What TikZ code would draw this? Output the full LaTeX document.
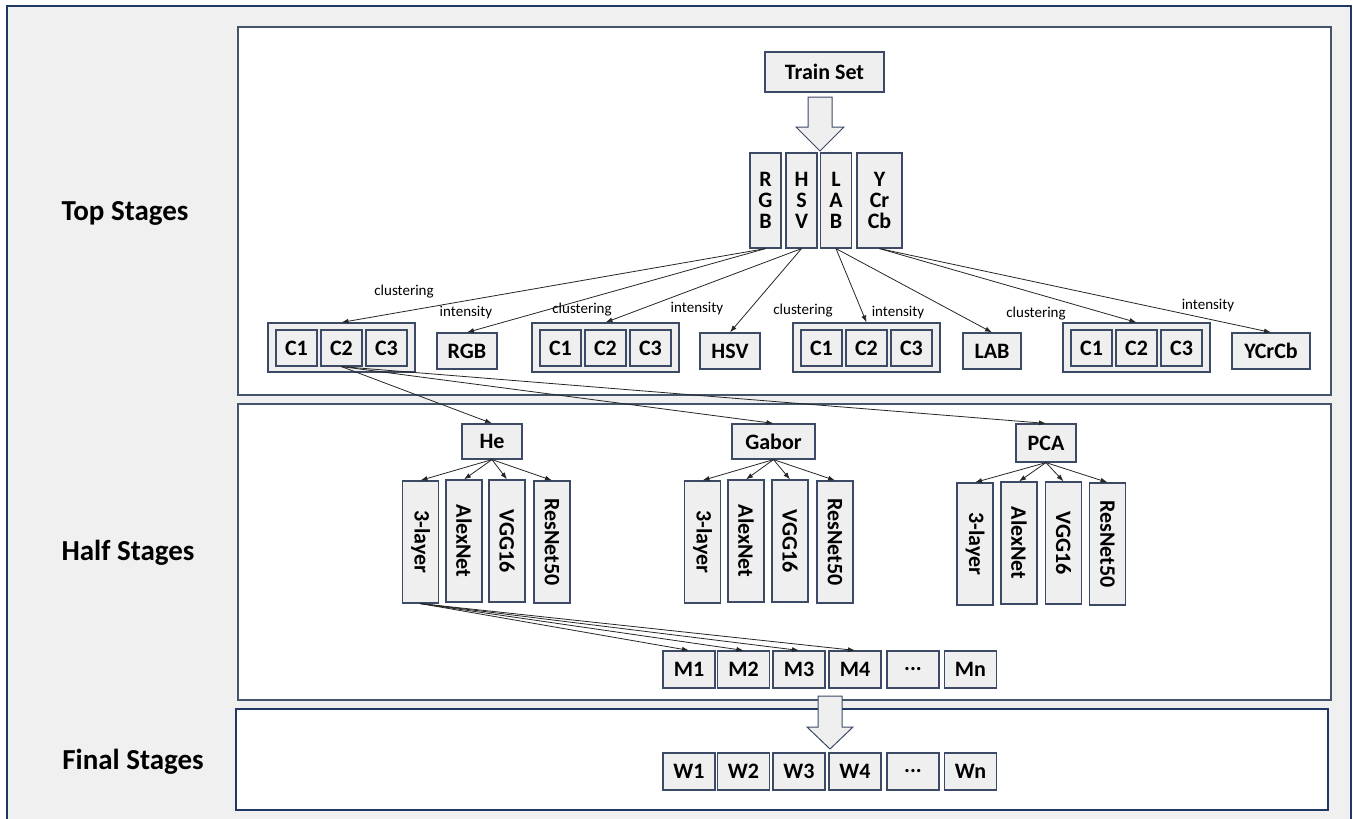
\documentclass[tikz,border=0pt]{standalone}
\usepackage{fontspec}
\setmainfont{Carlito}
\usetikzlibrary{arrows.meta}
\definecolor{panelfill}{HTML}{F0F0F0}
\definecolor{boxfill}{HTML}{EFEFEF}
\definecolor{boxline}{HTML}{3C4A66}
\definecolor{frameline}{HTML}{1F3864}
\definecolor{panelline}{HTML}{44546A}

\begin{document}
\begin{tikzpicture}[x=1pt,y=-1pt,
	box/.style={draw=boxline,fill=boxfill,line width=1.2pt,inner sep=0pt,align=center,
		font=\bfseries\fontsize{22}{21}\selectfont},
	cbox/.style={box,minimum width=41pt,minimum height=36pt},
	grp/.style={box,minimum width=147pt,minimum height=49pt},
	colbox/.style={box,minimum width=31pt,minimum height=95pt},
	ibox/.style={box,minimum height=36pt},
	mbox/.style={box,rotate=-90,minimum width=122pt,minimum height=36pt},
	rbox/.style={box,minimum width=52pt,minimum height=37pt},
	stage/.style={font=\bfseries\fontsize{29}{32}\selectfont},
	lbl/.style={font=\fontsize{15}{17}\selectfont,inner sep=0pt},
	edge/.style={draw=black!85,line width=0.8pt,-{Latex[length=7pt,width=5pt]}},
	blockarrow/.style={draw=boxline,fill=boxfill,line width=1pt}]
	
	\useasboundingbox (0,0) rectangle (1353,819);
	
	% frame and panels
	\draw[frameline,fill=panelfill,line width=1.5pt] (7,840) -- (7,6) -- (1351,6) -- (1351,840);
	\draw[panelline,fill=white,line width=1.5pt] (238,27) rectangle (1331,395);
	\draw[panelline,fill=white,line width=1.5pt] (238,404) rectangle (1331,700);
	\draw[frameline,fill=white,line width=1.5pt] (236,709) rectangle (1328,810);
	
	\node[stage] (top) at (125,213) {Top Stages};
	\node[stage] (half) at (128,553) {Half Stages};
	\node[stage] (final) at (133,762) {Final Stages};
	
	% top stages
	\node[box,minimum width=119pt,minimum height=40pt] (train) at (824.5,72) {Train Set};
	\draw[blockarrow] (808,97) -- (832,97) -- (832,127) -- (844,127) -- (820,151) -- (796,127) -- (808,127) -- cycle;
	
	\node[colbox] (rgb) at (765.5,200.5) {R\\G\\B};
	\node[colbox] (hsv) at (801.5,200.5) {H\\S\\V};
	\node[colbox] (lab) at (836,200.5) {L\\A\\B};
	\node[colbox,minimum width=45pt] (ycc) at (879.5,200.5) {Y\\Cr\\Cb};
	
	\node[grp] (g1) at (341.5,347.5) {};
	\node[cbox] (c11) at (296.5,348) {C1};
	\node[cbox] (c12) at (341.5,348) {C2};
	\node[cbox] (c13) at (386.5,348) {C3};
	\node[ibox,minimum width=60pt] (irgb) at (467,351) {RGB};
	
	\node[grp] (g2) at (605.5,347.5) {};
	\node[cbox] (c21) at (560.5,348) {C1};
	\node[cbox] (c22) at (605.5,348) {C2};
	\node[cbox] (c23) at (650.5,348) {C3};
	\node[ibox,minimum width=60pt] (ihsv) at (730,351) {HSV};
	
	\node[grp] (g3) at (866.5,347.5) {};
	\node[cbox] (c31) at (821.5,348) {C1};
	\node[cbox] (c32) at (866.5,348) {C2};
	\node[cbox] (c33) at (911.5,348) {C3};
	\node[ibox,minimum width=58pt] (ilab) at (992,351) {LAB};
	
	\node[grp] (g4) at (1136.5,347.5) {};
	\node[cbox] (c41) at (1091.5,348) {C1};
	\node[cbox] (c42) at (1136.5,348) {C2};
	\node[cbox] (c43) at (1181.5,348) {C3};
	\node[ibox,minimum width=78pt] (iycc) at (1271,351) {YCrCb};
	
	\draw[edge] (rgb.south) -- (g1.north);
	\draw[edge] (rgb.south) -- (irgb.north);
	\draw[edge] (hsv.south) -- (g2.north);
	\draw[edge] (hsv.south) -- (ihsv.north);
	\draw[edge] (lab.south) -- (g3.north);
	\draw[edge] (lab.south) -- (ilab.north);
	\draw[edge] (ycc.south) -- (g4.north);
	\draw[edge] (ycc.south) -- (iycc.north);
	
	\node[lbl] (cl1) at (404,292) {clustering};
	\node[lbl] (in1) at (466,313) {intensity};
	\node[lbl] (cl2) at (582,310) {clustering};
	\node[lbl] (in2) at (697,309) {intensity};
	\node[lbl] (cl3) at (803,311) {clustering};
	\node[lbl] (in3) at (898,313) {intensity};
	\node[lbl] (cl4) at (1036,314) {clustering};
	\node[lbl] (in4) at (1208,306) {intensity};
	
	% half stages
	\node[box,minimum width=60pt,minimum height=35pt] (he) at (492,441.5) {He};
	\node[box,minimum width=83pt,minimum height=35pt] (gabor) at (773.5,441.5) {Gabor};
	\node[box,minimum width=60pt,minimum height=38pt] (pca) at (1046,443) {PCA};
	
	\draw[edge] (c12.south) -- (he.north);
	\draw[edge] (c12.south) -- (gabor.north);
	\draw[edge] (c12.south) -- (pca.north);
	
	\node[mbox] (he1) at (420.5,542) {3-layer};
	\node[mbox] (he2) at (464,541) {AlexNet};
	\node[mbox] (he3) at (507,541) {VGG16};
	\node[mbox] (he4) at (552,542) {ResNet50};
	
	\node[mbox] (ga1) at (702.5,542) {3-layer};
	\node[mbox] (ga2) at (746,541) {AlexNet};
	\node[mbox] (ga3) at (790,541) {VGG16};
	\node[mbox] (ga4) at (835,542) {ResNet50};
	
	\node[mbox] (pc1) at (975,544) {3-layer};
	\node[mbox] (pc2) at (1019,543) {AlexNet};
	\node[mbox] (pc3) at (1063.5,543) {VGG16};
	\node[mbox] (pc4) at (1107.5,544) {ResNet50};
	
	\draw[edge] (he.south) -- (he1.west);
	\draw[edge] (he.south) -- (he2.west);
	\draw[edge] (he.south) -- (he3.west);
	\draw[edge] (he.south) -- (he4.west);
	
	\draw[edge] (gabor.south) -- (ga1.west);
	\draw[edge] (gabor.south) -- (ga2.west);
	\draw[edge] (gabor.south) -- (ga3.west);
	\draw[edge] (gabor.south) -- (ga4.west);
	
	\draw[edge] (pca.south) -- (pc1.west);
	\draw[edge] (pca.south) -- (pc2.west);
	\draw[edge] (pca.south) -- (pc3.west);
	\draw[edge] (pca.south) -- (pc4.west);
	
	\node[rbox] (m1) at (689,669.5) {M1};
	\node[rbox] (m2) at (743.5,669.5) {M2};
	\node[rbox] (m3) at (799,669.5) {M3};
	\node[rbox] (m4) at (855,669.5) {M4};
	\node[rbox] (mdots) at (913,669.5) {...};
	\node[rbox] (mn) at (970.5,669.5) {Mn};
	
	\draw[edge] (he1.east) -- (m1.north);
	\draw[edge] (he1.east) -- (m2.north);
	\draw[edge] (he1.east) -- (m3.north);
	\draw[edge] (he1.east) -- (m4.north);
	
	% final stages
	\draw[blockarrow] (818,696) -- (842,696) -- (842,727) -- (853,727) -- (830,749) -- (807,727) -- (818,727) -- cycle;
	
	\node[rbox] (w1) at (689,771.5) {W1};
	\node[rbox] (w2) at (743.5,771.5) {W2};
	\node[rbox] (w3) at (799,771.5) {W3};
	\node[rbox] (w4) at (855,771.5) {W4};
	\node[rbox] (wdots) at (913,771.5) {...};
	\node[rbox] (wn) at (970.5,771.5) {Wn};
	
\end{tikzpicture}
\end{document}
